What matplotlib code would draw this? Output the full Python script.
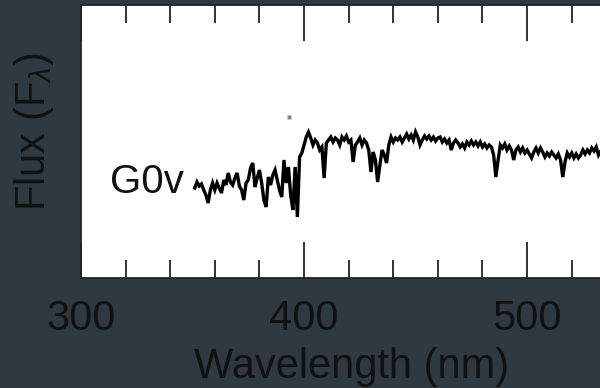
import matplotlib
matplotlib.use("Agg")
import matplotlib.pyplot as plt
from matplotlib.ticker import MultipleLocator

# spectrum (flux in arbitrary units)
wavelength = [351, 352, 353, 354, 355, 356, 357, 358, 359, 360,
              361, 362, 363, 364, 365, 366, 367, 368, 369, 370,
              371, 372, 373, 374, 375, 376, 377, 378, 379, 380,
              381, 382, 383, 384, 385, 386, 387, 388, 389, 390,
              391, 392, 393, 394, 395, 396, 397, 398, 399, 400,
              401, 402, 403, 404, 405, 406, 407, 408, 409, 410,
              411, 412, 413, 414, 415, 416, 417, 418, 419, 420,
              421, 422, 423, 424, 425, 426, 427, 428, 429, 430,
              431, 432, 433, 434, 435, 436, 437, 438, 439, 440,
              441, 442, 443, 444, 445, 446, 447, 448, 449, 450,
              451, 452, 453, 454, 455, 456, 457, 458, 459, 460,
              461, 462, 463, 464, 465, 466, 467, 468, 469, 470,
              471, 472, 473, 474, 475, 476, 477, 478, 479, 480,
              481, 482, 483, 484, 485, 486, 487, 488, 489, 490,
              491, 492, 493, 494, 495, 496, 497, 498, 499, 500,
              501, 502, 503, 504, 505, 506, 507, 508, 509, 510,
              511, 512, 513, 514, 515, 516, 517, 518, 519, 520,
              521, 522, 523, 524, 525, 526, 527, 528, 529, 530,
              531, 532, 533, 534, 535]
flux = [0.90, 0.96, 0.92, 0.94, 0.88, 0.83, 0.75, 0.88, 0.95, 0.88,
        0.95, 0.90, 0.85, 0.98, 0.93, 1.05, 0.96, 0.93, 1.00, 1.05,
        0.92, 0.88, 0.78, 0.95, 0.98, 1.10, 1.15, 0.91, 1.00, 1.08,
        0.95, 0.78, 0.71, 1.01, 0.93, 1.03, 1.08, 0.98, 0.88, 0.81,
        1.18, 0.95, 1.11, 0.83, 0.68, 1.11, 0.61, 1.21, 1.25, 1.33,
        1.41, 1.46, 1.40, 1.33, 1.38, 1.35, 1.28, 1.31, 1.00, 1.35,
        1.38, 1.41, 1.36, 1.40, 1.38, 1.33, 1.41, 1.38, 1.42, 1.36,
        1.38, 1.16, 1.33, 1.36, 1.40, 1.33, 1.38, 1.35, 1.28, 1.06,
        1.26, 1.18, 0.96, 1.13, 1.28, 1.23, 1.15, 1.33, 1.41, 1.36,
        1.40, 1.38, 1.41, 1.36, 1.40, 1.44, 1.39, 1.43, 1.38, 1.46,
        1.41, 1.33, 1.38, 1.42, 1.39, 1.42, 1.38, 1.41, 1.37, 1.40,
        1.41, 1.36, 1.39, 1.35, 1.38, 1.28, 1.35, 1.38, 1.35, 1.31,
        1.34, 1.30, 1.36, 1.33, 1.37, 1.33, 1.36, 1.32, 1.36, 1.31,
        1.34, 1.30, 1.33, 1.31, 1.23, 1.01, 1.18, 1.33, 1.30, 1.34,
        1.28, 1.32, 1.28, 1.18, 1.28, 1.31, 1.26, 1.30, 1.25, 1.28,
        1.24, 1.20, 1.26, 1.30, 1.25, 1.30, 1.26, 1.21, 1.25, 1.22,
        1.26, 1.23, 1.20, 1.24, 1.18, 1.01, 1.16, 1.25, 1.21, 1.25,
        1.20, 1.24, 1.20, 1.23, 1.28, 1.24, 1.28, 1.25, 1.30, 1.27,
        1.31, 1.23, 1.27, 1.28, 1.25]
stray_x = [393.3]
stray_y = [1.61]

star_label = "G0v"
bg = "#2e3942"
ink = "#111111"

plt.rcParams['font.family'] = ['Liberation Sans', 'DejaVu Sans']
plt.rcParams['mathtext.fontset'] = 'custom'
plt.rcParams['mathtext.rm'] = 'Liberation Sans'
plt.rcParams['mathtext.it'] = 'Liberation Sans:italic'

fig = plt.figure(figsize=(6, 3.88), dpi=100, facecolor=bg)
ax = fig.add_axes([81/600, 110/388, 542/600, 273/388])
ax.set_facecolor('white')

ax.plot(wavelength, flux, color='black', lw=2.4, solid_joinstyle='miter')
ax.plot(stray_x, stray_y, 's', ms=2.5, color='#888888', mec='none')

ax.set_xlim(300, 543)
ax.set_ylim(0, 2.73)

ax.xaxis.set_major_locator(MultipleLocator(100))
ax.xaxis.set_minor_locator(MultipleLocator(20))
ax.set_yticks([])
ax.tick_params(axis='x', which='major', direction='in', top=True, length=26,
               width=1.4, color='#333333', labelsize=30, labelcolor=ink, pad=15)
ax.tick_params(axis='x', which='minor', direction='in', top=True, length=13,
               width=1.4, color='#333333')
for s in ax.spines.values():
    s.set_color('#222222')
    s.set_linewidth(1.3)

fig.text(352/600, 1 - 378/388, 'Wavelength (nm)', ha='center', va='baseline',
         fontsize=30, color=ink)
fig.text(34/600, 1 - 132/388, r'Flux (F$_\lambda$)', ha='center', va='center',
         rotation=90, fontsize=30, color=ink)
fig.text(110/600, 1 - 193/388, star_label, ha='left', va='baseline',
         fontsize=29, color=ink)

fig.savefig('out.png', dpi=100, facecolor=bg)
